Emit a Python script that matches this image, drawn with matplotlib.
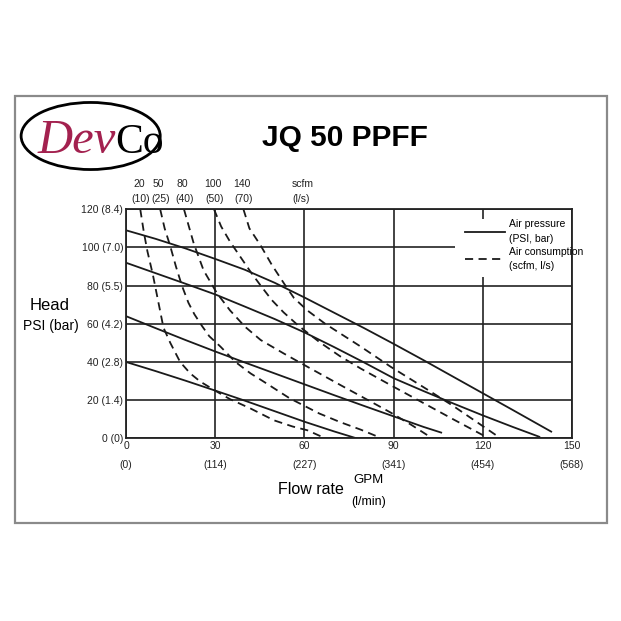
import matplotlib.pyplot as plt
from matplotlib.patches import Ellipse, Rectangle
from matplotlib.lines import Line2D

plt.rcParams['font.family'] = ['Liberation Sans', 'DejaVu Sans']

# Achsen: Förderstrom (GPM / l/min) und Förderhöhe (PSI / bar)
gpm_ticks = [0, 30, 60, 90, 120, 150]
lmin_labels = ['(0)', '(114)', '(227)', '(341)', '(454)', '(568)']
psi_ticks = [0, 20, 40, 60, 80, 100, 120]
bar_labels = ['0', '1.4', '2.8', '4.2', '5.5', '7.0', '8.4']

# Luftdruck-Kurven (durchgezogen)
p1_q = [0, 10, 20, 30, 40, 50, 60, 70, 80, 90, 100, 110, 120, 130, 143]
p1_h = [109, 104.5, 99.5, 94, 88.3, 81.5, 73.8, 65.8, 57.8, 49.5, 41, 32.3, 23.6, 14.9, 3.5]
p2_q = [0, 10, 20, 30, 40, 50, 60, 70, 80, 90, 100, 110, 120, 130, 139]
p2_h = [92, 86.5, 81, 75.4, 69, 62.5, 55.5, 47.8, 39.8, 31.5, 24.8, 18.3, 12, 6, 0.8]
p3_q = [0, 10, 20, 30, 40, 50, 60, 70, 80, 90, 100, 106]
p3_h = [64, 57.7, 51.5, 45.5, 39.7, 34, 28.3, 22.6, 17, 11.5, 6, 3]
p4_q = [0, 10, 20, 30, 40, 50, 60, 70, 77.5]
p4_h = [40, 35.2, 30.2, 25, 19.7, 14.2, 8.7, 3.6, 0]
pressure_curves = [(p1_q, p1_h), (p2_q, p2_h), (p3_q, p3_h), (p4_q, p4_h)]

# Luftverbrauch-Kurven (gestrichelt)
a20_q = [4.8, 6, 7.2, 9, 10.8, 12.6, 14.9, 18.2, 21.6, 25, 30.5, 35, 41.9, 49.8, 56, 61, 67]
a20_h = [120, 108, 98, 86, 72, 58, 50, 40, 34, 29.7, 24.5, 20.5, 15.6, 9.4, 6.2, 4.2, 0]
a50_q = [11.5, 13, 14.9, 16.8, 18.8, 21, 23, 25.5, 28, 31.8, 36.8, 41.9, 46, 50, 55, 60, 65, 72, 79, 86]
a50_h = [120, 110, 100.6, 90, 80, 71, 65, 59, 53.5, 48, 40, 34, 30, 26, 21, 17, 13, 8.5, 4.5, 0]
a80_q = [19.5, 22.8, 26.1, 30.6, 35, 40, 45.3, 53, 61, 72, 82, 89, 96, 103]
a80_h = [120, 102, 88, 76, 67, 58.5, 51.5, 44.5, 37.5, 28, 19.5, 13.5, 7, 0]
a100_q = [29.6, 32, 35, 38.5, 42, 45.3, 49, 53, 58, 65, 72, 79, 90, 100, 110, 122]
a100_h = [120, 111, 103, 95, 87, 80, 72.5, 66, 59, 50.5, 43, 36.5, 27, 18.5, 10, 0]
a140_q = [39.5, 41.5, 45.3, 49, 53.2, 56.5, 61, 67, 73, 79, 89, 101.6, 110, 118, 126]
a140_h = [120, 110, 101, 91, 81, 73.5, 67, 60, 54, 48, 37.5, 25.3, 17, 8.5, 0]
air_curves = [(a20_q, a20_h), (a50_q, a50_h), (a80_q, a80_h), (a100_q, a100_h), (a140_q, a140_h)]
scfm_labels = ['20', '50', '80', '100', '140']
ls_labels = ['(10)', '(25)', '(40)', '(50)', '(70)']

fig = plt.figure(figsize=(6.21, 6.21), dpi=100)
fig.patch.set_facecolor('white')

# grauer Rahmen um alles
fig.add_artist(Rectangle((15 / 621, 1 - 523 / 621), 592 / 621, 427 / 621,
                         transform=fig.transFigure, fill=False,
                         edgecolor='#8a8a8a', linewidth=1.6))

# Logo
fig.add_artist(Ellipse((0.146, 0.781), 0.224, 0.108, transform=fig.transFigure,
                       fill=False, edgecolor='black', linewidth=2.0))
fig.text(0.187, 0.753, 'Dev', ha='right', va='baseline', fontsize=35,
         family='Liberation Serif', style='italic', color='#a3214f')
fig.text(0.185, 0.753, 'Co', ha='left', va='baseline', fontsize=30,
         family='Liberation Serif', color='black')

fig.text(0.556, 0.778, 'JQ 50 PPFF', ha='center', va='center', fontsize=21.5,
         weight='bold')

ax = fig.add_axes([126 / 621, 1 - 438.3 / 621, 446 / 621, 229 / 621])
ax.set_xlim(0, 150)
ax.set_ylim(0, 120)

ax.set_xticks(gpm_ticks)
ax.set_xticklabels([str(t) for t in gpm_ticks], fontsize=7.5)
ax.set_yticks(psi_ticks)
ax.set_yticklabels([f'{p} ({b})' for p, b in zip(psi_ticks, bar_labels)], fontsize=7.5)
ax.tick_params(length=0, pad=2, colors='#222222')
ax.grid(True, color='#222222', linewidth=1.2, zorder=1)
ax.set_axisbelow(True)
for s in ax.spines.values():
    s.set_linewidth(1.3)
    s.set_color('#222222')

for t, lab in zip(gpm_ticks, lmin_labels):
    ax.text(t, -0.117, lab, transform=ax.get_xaxis_transform(),
            ha='center', va='center', fontsize=7.5, color='#222222')

for q, h in pressure_curves:
    ax.plot(q, h, color='#1a1a1a', linewidth=1.3, zorder=2)
for q, h in air_curves:
    ax.plot(q, h, color='#1a1a1a', linewidth=1.3, linestyle=(0, (4.5, 3)), zorder=2)

# Beschriftung der Luftverbrauchskurven oben
for (q, h), s, l in zip(air_curves, scfm_labels, ls_labels):
    ax.text(q[0] - 0.5, 1.11, s, transform=ax.get_xaxis_transform(),
            ha='center', va='center', fontsize=7.5, color='#222222')
    ax.text(q[0] + 0.2, 1.045, l, transform=ax.get_xaxis_transform(),
            ha='center', va='center', fontsize=7.5, color='#222222')
ax.text(59.5, 1.11, 'scfm', transform=ax.get_xaxis_transform(),
        ha='center', va='center', fontsize=7.5, color='#222222')
ax.text(58.8, 1.045, '(l/s)', transform=ax.get_xaxis_transform(),
        ha='center', va='center', fontsize=7.5, color='#222222')

# weiße Fläche für die Legende
ax.add_patch(Rectangle((110.6, 84.4), 39.2, 30.6, facecolor='white',
                       edgecolor='none', zorder=1.5))
handles = [Line2D([], [], color='#1a1a1a', linewidth=1.3),
           Line2D([], [], color='#1a1a1a', linewidth=1.3, linestyle=(0, (4.5, 3)))]
leg = ax.legend(handles, ['Air pressure\n(PSI, bar)', 'Air consumption\n(scfm, l/s)'],
                loc='upper left', bbox_to_anchor=(0.755, 0.965), frameon=False,
                fontsize=7.5, handlelength=3.9, handletextpad=0.3,
                labelspacing=0.3, borderpad=0.2, borderaxespad=0)
for t in leg.get_texts():
    t.set_linespacing(1.55)
leg.set_zorder(3)

fig.text(50 / 621, 1 - 306 / 621, 'Head', ha='center', va='center', fontsize=12)
fig.text(51 / 621, 1 - 326 / 621, 'PSI (bar)', ha='center', va='center', fontsize=10)
fig.text(311 / 621, 1 - 490 / 621, 'Flow rate', ha='center', va='center', fontsize=11.5)
fig.text(368 / 621, 1 - 480 / 621, 'GPM', ha='center', va='center', fontsize=9.5)
fig.text(369 / 621, 1 - 502 / 621, '(l/min)', ha='center', va='center', fontsize=9)

plt.savefig('out.png', dpi=100)
